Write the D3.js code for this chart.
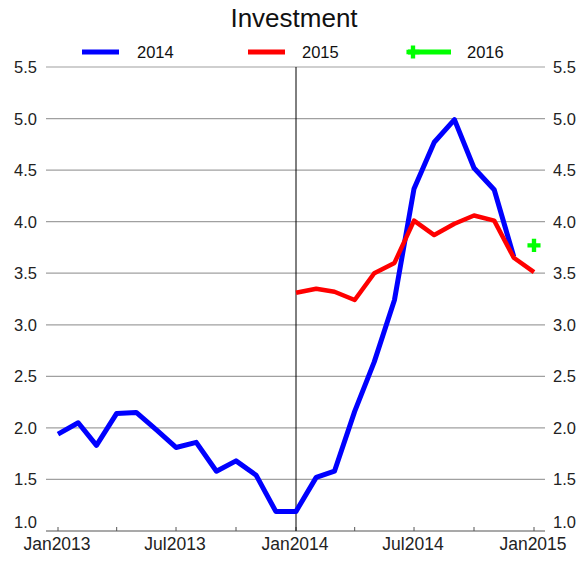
<!DOCTYPE html>
<html><head><meta charset="utf-8">
<script src="https://cdn.jsdelivr.net/npm/d3@7"></script>
<style>body{margin:0;background:#fff}svg{display:block;font-family:"Liberation Sans",Arial,sans-serif}</style>
</head><body>
<svg id="c" width="583" height="561"></svg>
<script>
const title = "Investment";
const seriesNames = ["2014", "2015", "2016"];
const seriesColors = ["#0000ff", "#ff0000", "#00ff00"];
const months2013_2014 = ["2013-01","2013-02","2013-03","2013-04","2013-05","2013-06","2013-07","2013-08","2013-09","2013-10","2013-11","2013-12",
  "2014-01","2014-02","2014-03","2014-04","2014-05","2014-06","2014-07","2014-08","2014-09","2014-10","2014-11","2014-12"];
const values2014 = [1.94,2.05,1.83,2.14,2.15,1.98,1.81,1.86,1.58,1.68,1.54,1.19,
  1.19,1.52,1.58,2.16,2.64,3.24,4.32,4.77,4.99,4.52,4.31,3.66];
const months2014_2015 = ["2014-01","2014-02","2014-03","2014-04","2014-05","2014-06","2014-07","2014-08","2014-09","2014-10","2014-11","2014-12","2015-01"];
const values2015 = [3.31,3.35,3.32,3.24,3.50,3.60,4.01,3.87,3.98,4.06,4.01,3.65,3.51];
const months2016 = ["2015-01"];
const values2016 = [3.77];
const yTicks = [1.0,1.5,2.0,2.5,3.0,3.5,4.0,4.5,5.0,5.5];
const xMajorTicks = ["2013-01","2013-07","2014-01","2014-07","2015-01"];
const xMinorTicks = ["2013-04","2013-10","2014-04","2014-10"];
const xTickLabels = ["Jan2013","Jul2013","Jan2014","Jul2014","Jan2015"];
const vLineDate = "2014-01";

const parse = d3.timeParse("%Y-%m");
const svg = d3.select("#c");
const L = 46, R = 545, T = 67, B = 531;
const x = d3.scaleTime().domain([parse("2013-01"), parse("2015-01")]).range([58, 534]);
const y = d3.scaleLinear().domain([1, 5.5]).range([B, T]);

// gridlines
svg.append("g").selectAll("line").data(yTicks.slice(1)).join("line")
  .attr("x1", L).attr("x2", R).attr("y1", d => y(d)).attr("y2", d => y(d))
  .attr("stroke", "#a0a0a0").attr("stroke-width", 1.2);

// y labels left & right
const fmt = d3.format(".1f");
svg.append("g").selectAll("text").data(yTicks).join("text")
  .attr("x", 37).attr("y", d => d === 1 ? y(d) - 3 : y(d) + 6)
  .attr("text-anchor", "end").attr("font-size", 16.5).attr("fill", "#222").text(fmt);
svg.append("g").selectAll("text").data(yTicks).join("text")
  .attr("x", 553).attr("y", d => d === 1 ? y(d) - 3 : y(d) + 6)
  .attr("text-anchor", "start").attr("font-size", 16.5).attr("fill", "#222").text(fmt);

// x axis line
svg.append("line").attr("x1", L).attr("x2", R).attr("y1", B).attr("y2", B)
  .attr("stroke", "#555").attr("stroke-width", 1.2);
svg.append("g").selectAll("line").data(xMajorTicks.concat(xMinorTicks)).join("line")
  .attr("x1", d => x(parse(d))).attr("x2", d => x(parse(d)))
  .attr("y1", B).attr("y2", B - 4).attr("stroke", "#555").attr("stroke-width", 1);
svg.append("g").selectAll("text").data(xMajorTicks).join("text")
  .attr("x", d => x(parse(d)) - 1).attr("y", 550).attr("text-anchor", "middle")
  .attr("font-size", 17.5).attr("fill", "#222").text((d, i) => xTickLabels[i]);

// vertical line
svg.append("line").attr("x1", x(parse(vLineDate))).attr("x2", x(parse(vLineDate)))
  .attr("y1", T).attr("y2", B).attr("stroke", "#000").attr("stroke-width", 1);

const line = d3.line().x(d => x(d[0])).y(d => y(d[1]));
const d14 = months2013_2014.map((m, i) => [parse(m), values2014[i]]);
const d15 = months2014_2015.map((m, i) => [parse(m), values2015[i]]);
svg.append("path").attr("d", line(d14)).attr("fill", "none")
  .attr("stroke", seriesColors[0]).attr("stroke-width", 5).attr("stroke-linejoin", "round");
svg.append("path").attr("d", line(d15)).attr("fill", "none")
  .attr("stroke", seriesColors[1]).attr("stroke-width", 4.5).attr("stroke-linejoin", "round");

const plus = d3.symbol().type(d3.symbolCross).size(95);
svg.append("g").selectAll("path").data(months2016.map((m, i) => [parse(m), values2016[i]])).join("path")
  .attr("d", plus).attr("transform", d => `translate(${x(d[0])},${y(d[1])})`)
  .attr("fill", seriesColors[2]);

// title
svg.append("text").attr("x", 294).attr("y", 27).attr("text-anchor", "middle")
  .attr("font-size", 26).attr("fill", "#111").text(title);

// legend
const legX = [82, 248, 408], legTextX = [137, 302, 467], legY = 52;
seriesNames.forEach((n, i) => {
  svg.append("line").attr("x1", legX[i]).attr("x2", legX[i] + (i === 2 ? 43 : 37))
    .attr("y1", legY).attr("y2", legY).attr("stroke", seriesColors[i]).attr("stroke-width", 5);
  if (i === 2) svg.append("path").attr("d", plus).attr("transform", `translate(${legX[i] + 5},${legY})`).attr("fill", seriesColors[i]);
  svg.append("text").attr("x", legTextX[i]).attr("y", legY + 6).attr("font-size", 16.5).attr("fill", "#111").text(n);
});
</script>
</body></html>
